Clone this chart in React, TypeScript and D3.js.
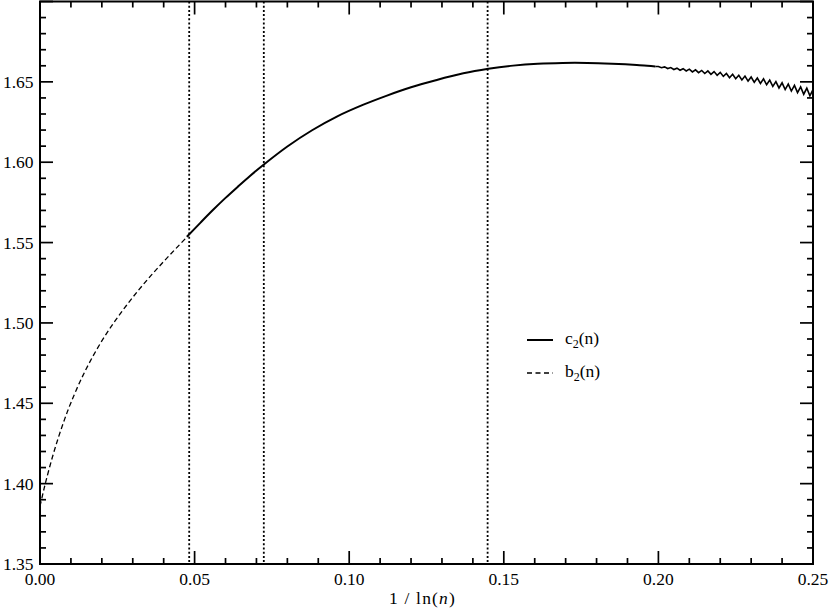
import React from "react";
import * as d3 from "d3";

// b2(n) dashed curve: [1/ln(n), value]
const b2X = [0, 0.001, 0.002, 0.004, 0.006, 0.008, 0.01, 0.013, 0.016, 0.02, 0.024, 0.028, 0.032, 0.036, 0.04, 0.044, 0.048];
const b2Y = [1.386, 1.3943, 1.4022, 1.4164, 1.429, 1.4403, 1.4504, 1.4637, 1.4753, 1.4888, 1.5005, 1.511, 1.5207, 1.5297, 1.5382, 1.5464, 1.5544];

// c2(n) solid curve, smooth part
const c2X = [0.0475, 0.052, 0.056, 0.06, 0.064, 0.068, 0.0722, 0.08, 0.088, 0.096, 0.1046, 0.112, 0.12, 0.128, 0.1369, 0.145, 0.153, 0.161, 0.169, 0.177, 0.185, 0.193, 0.199];
const c2Y = [1.5536, 1.5626, 1.5704, 1.5778, 1.5848, 1.5916, 1.5983, 1.6098, 1.6199, 1.6284, 1.6358, 1.6413, 1.6466, 1.651, 1.6553, 1.6581, 1.6601, 1.6613, 1.6618, 1.6618, 1.6613, 1.6605, 1.6596];

// c2(n) oscillating tail (zig-zag)
const tailX = [0.2, 0.201, 0.202, 0.203, 0.204, 0.205, 0.206, 0.207, 0.208, 0.209, 0.21, 0.211, 0.212, 0.213, 0.214, 0.215, 0.216, 0.217, 0.218, 0.219, 0.22, 0.221, 0.222, 0.223, 0.224, 0.225, 0.226, 0.227, 0.228, 0.229, 0.23, 0.231, 0.232, 0.233, 0.234, 0.235, 0.236, 0.237, 0.238, 0.239, 0.24, 0.241, 0.242, 0.243, 0.244, 0.245, 0.246, 0.247, 0.248, 0.249, 0.25];
const tailY = [1.6596, 1.6588, 1.6593, 1.6583, 1.6589, 1.6577, 1.6585, 1.6572, 1.6582, 1.6568, 1.6579, 1.6562, 1.6575, 1.6557, 1.6571, 1.6552, 1.6568, 1.6547, 1.6564, 1.6541, 1.6559, 1.6534, 1.6552, 1.6526, 1.6547, 1.6519, 1.6541, 1.6512, 1.6536, 1.6505, 1.653, 1.6497, 1.6524, 1.649, 1.6519, 1.6482, 1.6511, 1.6472, 1.6502, 1.6462, 1.6494, 1.6452, 1.6486, 1.6443, 1.6478, 1.6433, 1.6469, 1.6423, 1.6461, 1.6413, 1.6452];

// vertical reference lines at 1/ln(10^9), 1/ln(10^6), 1/ln(10^3)
const refLines = [1 / Math.log(1e9), 1 / Math.log(1e6), 1 / Math.log(1e3)];

const xMajor = [0, 0.05, 0.1, 0.15, 0.2, 0.25];
const yMajor = [1.35, 1.4, 1.45, 1.5, 1.55, 1.6, 1.65];
const xMinor = d3.range(0, 26).map((i) => i / 100);
const yMinor = d3.range(135, 171).map((i) => i / 100);

const FONT = "Liberation Serif, Times New Roman, Times, serif";

export default function App() {
  const left = 40, right = 813, top = 1.5, bottom = 564;
  const x = d3.scaleLinear().domain([0, 0.25]).range([left, right]);
  const y = d3.scaleLinear().domain([1.35, 1.7]).range([bottom, top]);

  const smooth = d3.line<[number, number]>().x((d) => x(d[0])).y((d) => y(d[1])).curve(d3.curveCatmullRom.alpha(0.5));
  const linear = d3.line<[number, number]>().x((d) => x(d[0])).y((d) => y(d[1]));

  const b2: [number, number][] = b2X.map((v, i) => [v, b2Y[i]]);
  const c2: [number, number][] = c2X.map((v, i) => [v, c2Y[i]]);
  const tail: [number, number][] = [[c2X[c2X.length - 1], c2Y[c2Y.length - 1]], ...tailX.map((v, i) => [v, tailY[i]] as [number, number])];

  const MAJ = 13, MIN = 6;

  return (
    <svg width={830} height={608} style={{ position: "absolute", left: 0, top: 0, background: "#fff" }}>
      <rect x={0} y={0} width={830} height={608} fill="#fff" />
      {/* reference dotted lines */}
      {refLines.map((v, i) => (
        <line key={"r" + i} x1={x(v)} x2={x(v)} y1={top} y2={bottom} stroke="#000" strokeWidth={1.8} strokeDasharray="2 2.2" />
      ))}
      {/* curves */}
      <path d={smooth(b2) || ""} fill="none" stroke="#000" strokeWidth={1.3} strokeDasharray="5 3" />
      <path d={smooth(c2) || ""} fill="none" stroke="#000" strokeWidth={2} />
      <path d={linear(tail) || ""} fill="none" stroke="#000" strokeWidth={1.6} strokeLinejoin="miter" />

      {/* frame */}
      <rect x={left} y={top} width={right - left} height={bottom - top} fill="none" stroke="#000" strokeWidth={2} />

      {/* x ticks */}
      {xMinor.map((v, i) => {
        const isMaj = xMajor.some((m) => Math.abs(m - v) < 1e-9);
        const L = isMaj ? MAJ : MIN;
        return (
          <g key={"xt" + i}>
            <line x1={x(v)} x2={x(v)} y1={bottom} y2={bottom - L} stroke="#000" strokeWidth={1.7} />
            <line x1={x(v)} x2={x(v)} y1={top} y2={top + L} stroke="#000" strokeWidth={1.7} />
          </g>
        );
      })}
      {/* y ticks */}
      {yMinor.map((v, i) => {
        const isMaj = Math.round(v * 100) % 5 === 0;
        const L = isMaj ? MAJ : MIN;
        return (
          <g key={"yt" + i}>
            <line x1={left} x2={left + L} y1={y(v)} y2={y(v)} stroke="#000" strokeWidth={1.7} />
            <line x1={right} x2={right - L} y1={y(v)} y2={y(v)} stroke="#000" strokeWidth={1.7} />
          </g>
        );
      })}

      {/* x tick labels */}
      {xMajor.map((v, i) => (
        <text key={"xl" + i} x={x(v)} y={584.5} textAnchor="middle" fontFamily={FONT} fontSize={17.5} fill="#000">
          {v.toFixed(2)}
        </text>
      ))}
      {/* y tick labels */}
      {yMajor.map((v, i) => (
        <text key={"yl" + i} x={33.5} y={y(v) + 6} textAnchor="end" fontFamily={FONT} fontSize={17.5} fill="#000">
          {v.toFixed(2)}
        </text>
      ))}

      {/* x axis title */}
      <text x={(left + right) / 2 - 4} y={603.5} textAnchor="middle" fontFamily={FONT} fontSize={17.5} letterSpacing={1.2} fill="#000">
        1 / ln(<tspan fontStyle="italic">n</tspan>)
      </text>

      {/* legend */}
      <line x1={527} x2={553} y1={340} y2={340} stroke="#000" strokeWidth={2} />
      <text x={565} y={344} fontFamily={FONT} fontSize={17.5} fill="#000">
        c<tspan fontSize={12} dy={4}>2</tspan><tspan dy={-4}>(n)</tspan>
      </text>
      <line x1={527} x2={553} y1={373} y2={373} stroke="#000" strokeWidth={1.3} strokeDasharray="5 3.5" />
      <text x={565} y={377} fontFamily={FONT} fontSize={17.5} fill="#000">
        b<tspan fontSize={12} dy={4}>2</tspan><tspan dy={-4}>(n)</tspan>
      </text>
    </svg>
  );
}
